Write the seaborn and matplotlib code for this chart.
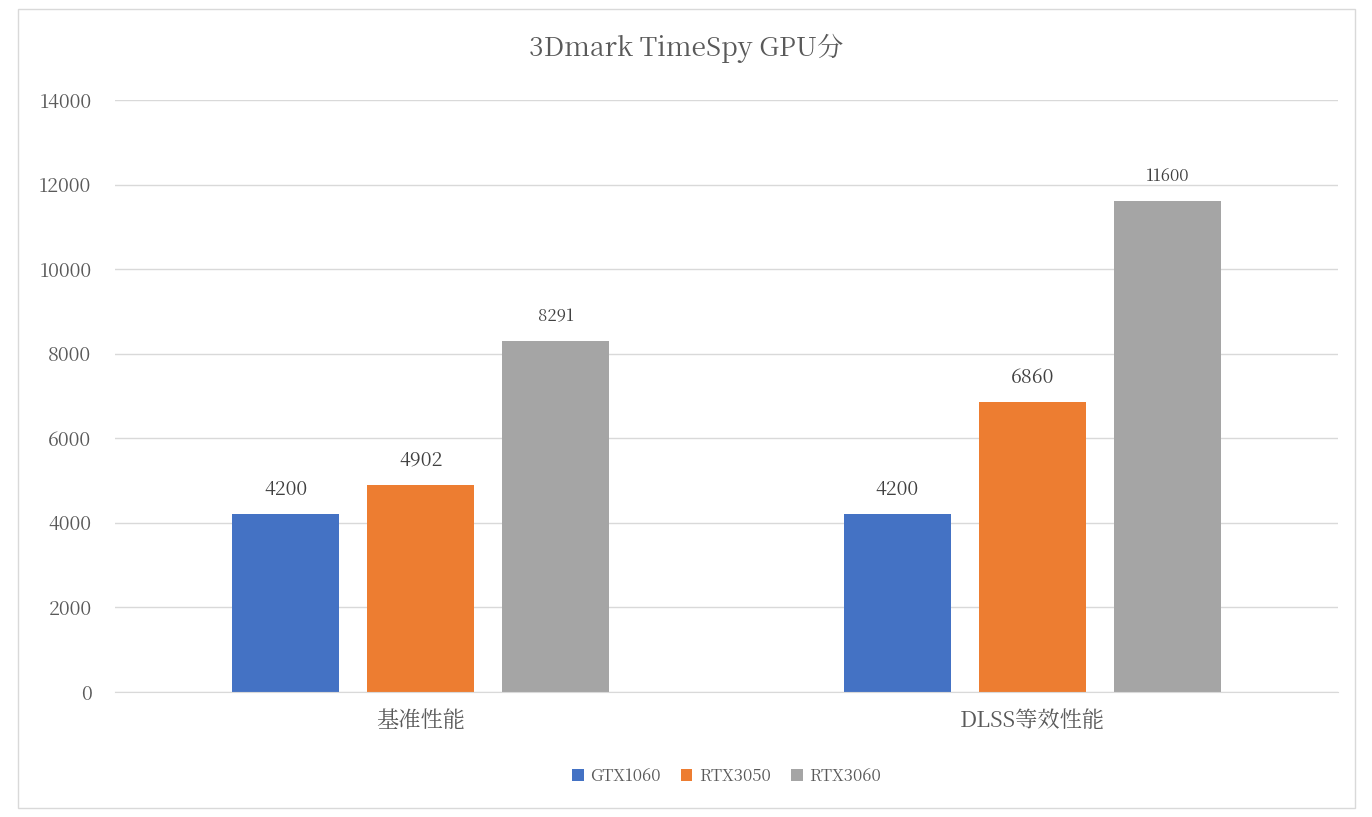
import pandas as pd
import matplotlib.pyplot as plt
import seaborn as sns
from matplotlib import font_manager
from matplotlib.patches import Rectangle

categories = ["基准性能", "DLSS等效性能"]
series = ["GTX1060", "RTX3050", "RTX3060"]
gtx1060 = [4200, 4200]
rtx3050 = [4902, 6860]
rtx3060 = [8291, 11600]
colors = ["#4472C4", "#ED7D31", "#A5A5A5"]

rows = []
for name, vals in zip(series, [gtx1060, rtx3050, rtx3060]):
    for c, v in zip(categories, vals):
        rows.append({"cat": c, "series": name, "value": v})
df = pd.DataFrame(rows)

# find a CJK font that matplotlib actually knows
cjk = None
for f in font_manager.fontManager.ttflist:
    if "CJK" in f.name and ("SC" in f.name or cjk is None):
        cjk = f.name
plt.rcParams["font.family"] = [cjk or "Noto Sans CJK SC", "DejaVu Sans"]
txt = "#595959"

fig = plt.figure(figsize=(13.72, 8.17), dpi=100)
ax = fig.add_axes([115 / 1372, 1 - 692 / 817, 1223 / 1372, 592 / 817])
fig.patches.append(Rectangle((18 / 1372, 9 / 817), 1337 / 1372, 799 / 817,
                             transform=fig.transFigure, fill=False,
                             edgecolor="#D9D9D9", linewidth=1))

sns.barplot(data=df, x="cat", y="value", hue="series", palette=colors,
            saturation=1, width=0.662, gap=0.207, ax=ax, legend=True)

for cont in ax.containers:
    for bar in cont:
        v = int(bar.get_height())
        small = v in (8291, 11600)
        ax.text(bar.get_x() + bar.get_width() / 2, v + (330 if not small else 380),
                str(v), ha="center", va="bottom",
                fontsize=12 if small else 14, color="#404040")

ax.set_xlim(-0.5, 1.5)
ax.set_ylim(0, 14000)
ax.set_yticks(range(0, 14001, 2000))
ax.grid(axis="y", color="#D9D9D9", linewidth=1)
ax.set_axisbelow(True)
for s in ["top", "right", "left"]:
    ax.spines[s].set_visible(False)
ax.spines["bottom"].set_color("#D9D9D9")
ax.tick_params(axis="both", length=0, labelcolor=txt, labelsize=14)
ax.tick_params(axis="y", pad=17)
ax.tick_params(axis="x", pad=12, labelsize=16)
ax.set_xlabel("")
ax.set_ylabel("")

fig.text(0.5, 1 - 48 / 817, "3Dmark TimeSpy GPU分", ha="center", va="center",
         fontsize=19, color=txt)

ax.legend(loc="center", bbox_to_anchor=(0.5, (692 - 776) / 592), ncol=3,
          frameon=False, fontsize=12, handlelength=0.7, handleheight=0.7,
          columnspacing=1.2, handletextpad=0.4, labelcolor=txt)

fig.savefig("out.png", dpi=100)
